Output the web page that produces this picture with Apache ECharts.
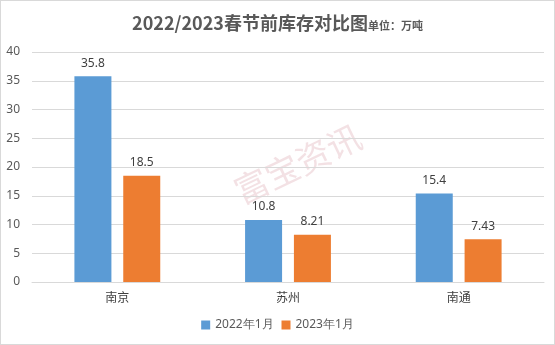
<!DOCTYPE html>
<html><head><meta charset="utf-8">
<script src="https://cdn.jsdelivr.net/npm/echarts@6/dist/echarts.min.js"></script>
<style>html,body{margin:0;padding:0;background:#fff}#c{width:553px;height:343px;border:1px solid #d9d9d9}</style>
</head><body><div id="c"></div>
<script>
const categories = ['南京', '苏州', '南通'];
const series2022 = [35.8, 10.8, 15.4];
const series2023 = [18.5, 8.21, 7.43];
const seriesNames = ['2022年1月', '2023年1月'];
const yTicks = {min: 0, max: 40, interval: 5};

const chart = echarts.init(document.getElementById('c'));
const labelStyle = {show: true, position: 'top', distance: 7, color: '#404040', fontSize: 12, fontFamily: 'Noto Sans'};
chart.setOption({
  animation: false,
  title: {
    text: '2022/2023春节前库存对比图{u|单位：万吨}',
    left: 'center', top: 8,
    textStyle: {fontFamily: 'Noto Sans CJK SC', fontSize: 18, fontWeight: 'bold', color: '#595959',
      rich: {u: {fontFamily: 'Noto Sans CJK SC', fontSize: 11, fontWeight: 'bold', color: '#595959', padding: [6, 0, 0, 0]}}}
  },
  graphic: [{
    type: 'text', left: 228, top: 118, rotation: Math.PI / 7,
    style: {text: '富宝资讯', fontSize: 34, fontFamily: 'Noto Sans CJK SC', fill: 'rgba(200,120,130,0.22)'}
  }],
  grid: {left: 31, right: 10, top: 51, bottom: 62, containLabel: false},
  legend: {
    bottom: 8, left: 'center', itemWidth: 9, itemHeight: 9, itemGap: 8,
    icon: 'rect', textStyle: {fontSize: 12, color: '#595959', fontFamily: 'Noto Sans'},
    data: seriesNames
  },
  xAxis: {
    type: 'category', data: categories,
    axisLine: {lineStyle: {color: '#d9d9d9'}}, axisTick: {show: false},
    axisLabel: {color: '#404040', fontSize: 12, fontFamily: 'Noto Sans CJK SC', margin: 9}
  },
  yAxis: {
    type: 'value', min: yTicks.min, max: yTicks.max, interval: yTicks.interval,
    axisLine: {show: false}, axisTick: {show: false},
    splitLine: {lineStyle: {color: '#d9d9d9'}},
    axisLabel: {color: '#595959', fontSize: 12, fontFamily: 'Noto Sans', margin: 12}
  },
  series: [
    {name: seriesNames[0], type: 'bar', data: series2022, barWidth: 37, barGap: '32%', itemStyle: {color: '#5B9BD5'}, label: labelStyle},
    {name: seriesNames[1], type: 'bar', data: series2023, barWidth: 37, itemStyle: {color: '#ED7D31'}, label: labelStyle}
  ]
});
</script></body></html>
